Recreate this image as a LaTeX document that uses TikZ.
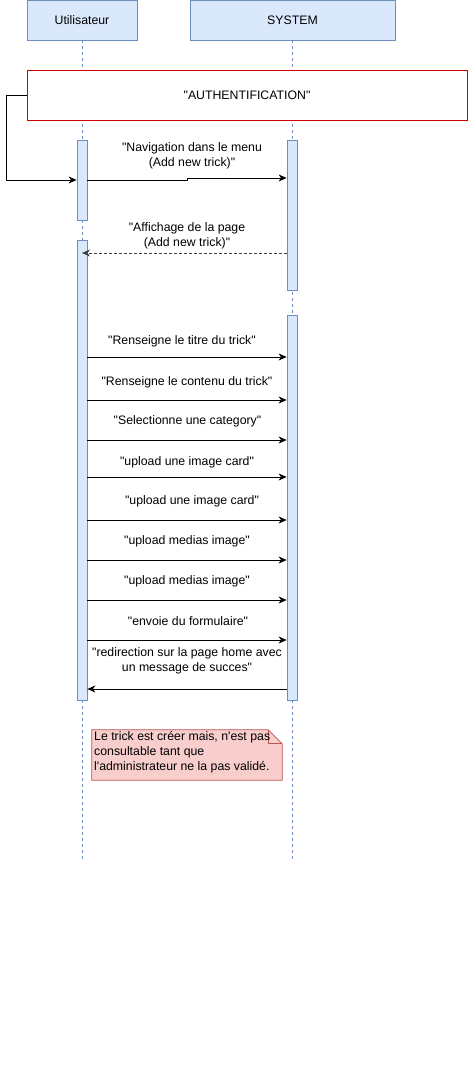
\documentclass[tikz,border=0pt]{standalone}
\usepackage{fontspec}
\setmainfont{Liberation Sans}[Ligatures=TeXOff]
\usetikzlibrary{arrows.meta, positioning, calc}
\definecolor{lifeblue}{RGB}{108, 142, 191}
\definecolor{lifefill}{RGB}{218, 232, 252}
\definecolor{authred}{RGB}{204, 0, 0}
\definecolor{notered}{RGB}{184, 84, 80}
\definecolor{notefill}{RGB}{248, 206, 204}

\begin{document}
\begin{tikzpicture}[x=1pt, y=-1pt,
        actor/.style={draw=lifeblue, fill=lifefill, line width=0.8pt, inner sep=0pt, font=\fontsize{12.3}{14}\selectfont},
        lifeline/.style={draw=lifeblue, line width=0.6pt, dash pattern=on 3pt off 3pt},
        activ/.style={draw=lifeblue, fill=lifefill, line width=0.8pt, inner sep=0pt, minimum width=10pt},
        msg/.style={-{Stealth[length=8pt, width=7pt, inset=2.5pt]}, line width=0.8pt},
        reply/.style={msg, draw=black!75, dash pattern=on 3pt off 2pt},
        lbl/.style={align=center, inner sep=0pt, font=\fontsize{12.3}{14.5}\selectfont}]
        \useasboundingbox (0,0) rectangle (468,1071);
        \node[actor, minimum width=110pt, minimum height=40pt] (user) at (82,20) {Utilisateur};
        \node[actor, minimum width=205pt, minimum height=40pt] (sys) at (292.5,20) {SYSTEM};
        \draw[lifeline] (user.south) -- (82,860);
        \draw[lifeline] (sys.south) -- (292.5,860);
        \node[activ, minimum height=80pt] (ua1) at (82,180) {};
        \node[activ, minimum height=460pt] (ua2) at (82,470) {};
        \node[activ, minimum height=150pt] (sa1) at (292,215) {};
        \node[activ, minimum height=385pt] (sa2) at (292,507.5) {};
        \node[draw=authred, fill=white, line width=0.8pt, minimum width=440pt, minimum height=50pt,
              font=\fontsize{12.3}{14}\selectfont] (auth) at (247,95) {"AUTHENTIFICATION"};
        \draw[msg] (auth.west) -- ++(-20,0) |- (ua1.west);
        \node[lbl] (nav) at (192,156) {"Navigation dans le menu\\(Add new trick)"};
        \draw[msg] (ua1.east) -- ++(100,0) -- ++(0,-2) -- (sa1.west |- 0,178);
        \node[lbl] (aff) at (187,236) {"Affichage de la page\\(Add new trick)"};
        \draw[reply] (sa1.west |- 0,253) -- (ua2.center |- 0,253);
        \node[lbl] (titre) at (182,341) {"Renseigne le titre du trick"};
        \draw[msg] (ua2.east |- 0,357) -- (sa2.west |- 0,357);
        \node[lbl] (contenu) at (187,382) {"Renseigne le contenu du trick"};
        \draw[msg] (ua2.east |- 0,400) -- (sa2.west |- 0,400);
        \node[lbl] (categ) at (187.5,421) {"Selectionne une category"};
        \draw[msg] (ua2.east |- 0,440) -- (sa2.west |- 0,440);
        \node[lbl] (card1) at (187,462) {"upload une image card"};
        \draw[msg] (ua2.east |- 0,477) -- (sa2.west |- 0,477);
        \node[lbl] (card2) at (192,501) {"upload une image card"};
        \draw[msg] (ua2.east |- 0,520) -- (sa2.west |- 0,520);
        \node[lbl] (media1) at (187,541) {"upload medias image"};
        \draw[msg] (ua2.east |- 0,560) -- (sa2.west |- 0,560);
        \node[lbl] (media2) at (187,581) {"upload medias image"};
        \draw[msg] (ua2.east |- 0,600) -- (sa2.west |- 0,600);
        \node[lbl] (envoi) at (188,621) {"envoie du formulaire"};
        \draw[msg] (ua2.east |- 0,640) -- (sa2.west |- 0,640);
        \node[lbl] (redir) at (187,661) {"redirection sur la page home avec\\un message de succes"};
        \draw[msg] (sa2.west |- 0,689) -- (ua2.east |- 0,689);
        \node[minimum width=190pt, minimum height=50pt, inner sep=0pt] (note) at (187,755) {};
        \draw[draw=notered, fill=notefill, line width=0.8pt]
              (note.south west) -- (note.north west) -- ($(note.north east)+(-14,0)$)
              -- ($(note.north east)+(0,14)$) -- (note.south east) -- cycle;
        \draw[draw=notered, line width=0.8pt] ($(note.north east)+(-14,0)$) -- ++(0,14) -- ++(14,0);
        \node[anchor=north west, align=left, inner sep=1pt, font=\fontsize{12.3}{15}\selectfont]
              (notetext) at (93,730) {Le trick est créer mais, n'est pas\\consultable tant que\\l'administrateur ne la pas validé.};
    \end{tikzpicture}
\end{document}
